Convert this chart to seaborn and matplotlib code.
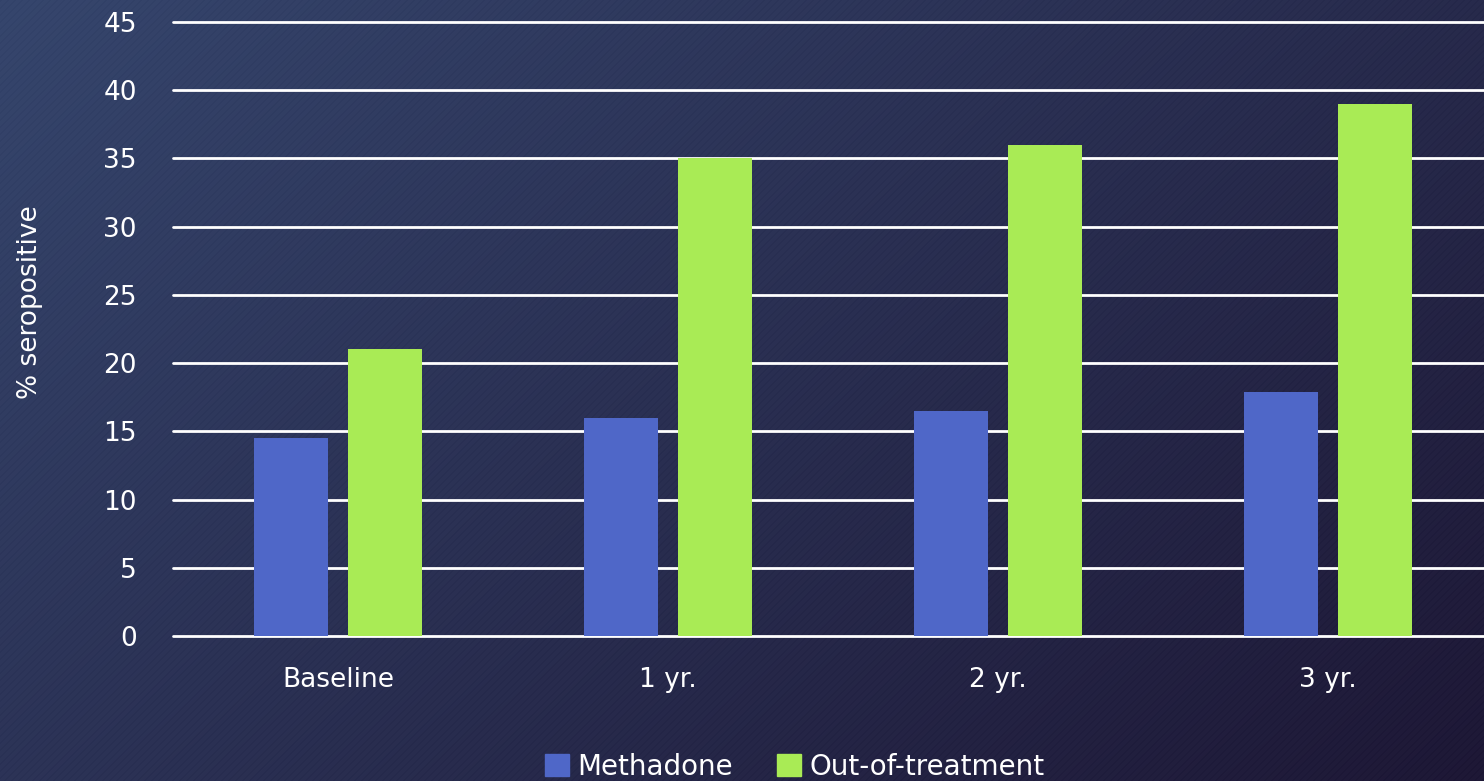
import numpy as np
import pandas as pd
import seaborn as sns
import matplotlib.pyplot as plt

periods = ['Baseline', '1 yr.', '2 yr.', '3 yr.']
methadone = [14.5, 16.0, 16.5, 17.9]
out_of_treatment = [21.0, 35.0, 36.0, 39.0]
groups = ['Methadone', 'Out-of-treatment']
colors = ['#4F67C8', '#A9EB55']

df = pd.DataFrame({
    'period': periods * 2,
    'pct': methadone + out_of_treatment,
    'group': [groups[0]] * 4 + [groups[1]] * 4,
})

sns.set_theme(style='white')
plt.rcParams['font.family'] = ['DejaVu Sans']

fig = plt.figure(figsize=(14.84, 7.81), dpi=100)

# background: diagonal gradient with faint stripes
bg = fig.add_axes([0, 0, 1, 1], zorder=-10)
h, w = 781, 1484
yy, xx = np.mgrid[0:h, 0:w]
t = (xx / w * 0.6 + yy / h * 0.4)
top = np.array([0x36, 0x46, 0x6D]) / 255
bot = np.array([0x1E, 0x18, 0x36]) / 255
img = top[None, None, :] * (1 - t[..., None]) + bot[None, None, :] * t[..., None]
stripes = ((xx + yy) % 7 < 2) * 0.012
img = np.clip(img - stripes[..., None], 0, 1)
bg.imshow(img, aspect='auto', extent=[0, 1, 0, 1])
bg.axis('off')

ax = fig.add_axes([173 / 1484, (781 - 636) / 781, 1320 / 1484, 614 / 781])
ax.patch.set_alpha(0)

sns.barplot(data=df, x='period', y='pct', hue='group', palette=colors,
            width=0.57, gap=0.21, ax=ax, saturation=1, legend=False,
            linewidth=0, edgecolor='none')

ax.set_ylim(0, 45)
ax.set_xlim(-0.5, 3.5)
ax.set_yticks(range(0, 46, 5))
for v in range(0, 46, 5):
    ax.axhline(v, color='white', lw=2, zorder=0.5, clip_on=False)
for s in ax.spines.values():
    s.set_visible(False)
ax.tick_params(axis='y', colors='white', labelsize=19, pad=26, length=0)
ax.tick_params(axis='x', colors='white', labelsize=19, pad=22, length=0)
ax.set_xlabel('')
ax.set_ylabel('')

fig.text(30 / 1484, 1 - 302 / 781, '% seropositive', rotation=90, color='white',
         fontsize=19, ha='center', va='center')

handles = [plt.Rectangle((0, 0), 1, 1, color=c) for c in colors]
fig.legend(handles, groups, loc='center', bbox_to_anchor=(795 / 1484, 1 - 767 / 781),
           ncol=2, frameon=False, fontsize=20, labelcolor='white',
           handlelength=0.85, handleheight=0.85, handletextpad=0.3, columnspacing=1.6)

fig.savefig('out.png', dpi=100)
